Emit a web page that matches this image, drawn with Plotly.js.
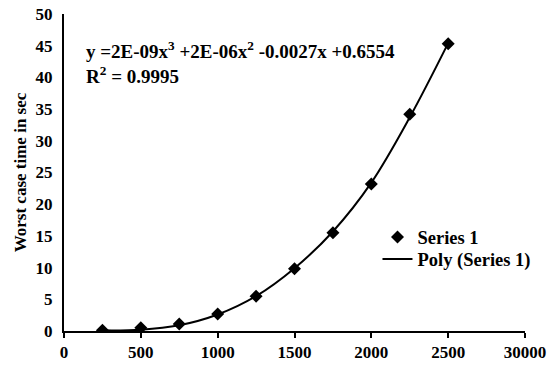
<!DOCTYPE html>
<html>
<head>
<meta charset="utf-8">
<script src="https://cdn.plot.ly/plotly-3.0.1.min.js"></script>
<style>html,body{margin:0;padding:0;background:#fff}#chart{width:555px;height:365px}</style>
</head>
<body>
<div id="chart"></div>
<script>
// Data
const sizes = [250, 500, 750, 1000, 1250, 1500, 1750, 2000, 2250, 2500];
const worstTime = [0.1, 0.5, 1.1, 2.7, 5.5, 9.8, 15.5, 23.2, 34.2, 45.3];
// Polynomial trend line
const trendX = [250, 500, 750, 1000, 1250, 1500, 1750, 2000, 2250, 2500];
const trendY = [0.1, 0.2, 0.9, 2.6, 5.5, 9.9, 15.7, 23.4, 33.7, 45.4];
const xTickVals = [0, 500, 1000, 1500, 2000, 2500, 3000];
const xTickText = ['0', '500', '1000', '1500', '2000', '2500', '30000'];
const yTickVals = [0, 5, 10, 15, 20, 25, 30, 35, 40, 45, 50];

const font = {family: '"Liberation Serif", "Times New Roman", serif', color: '#000'};
const bold = s => '<b>' + s + '</b>';

const traces = [
  {x: sizes, y: worstTime, name: bold('Series 1'), mode: 'markers', type: 'scatter',
   marker: {symbol: 'diamond', size: 10, color: '#000'}, legend: 'legend'},
  {x: trendX, y: trendY, name: bold('Poly (Series 1)'), mode: 'lines', type: 'scatter',
   line: {color: '#000', width: 2, shape: 'spline'}, legend: 'legend2'}
];

const legendFont = Object.assign({size: 18.5}, font);
const layout = {
  width: 555, height: 365,
  margin: {l: 64, r: 30, t: 14, b: 34},
  paper_bgcolor: '#fff', plot_bgcolor: '#fff',
  font: Object.assign({size: 16}, font),
  showlegend: true,
  legend: {x: 0.68, y: 0.355, xanchor: 'left', yanchor: 'top', bgcolor: 'rgba(0,0,0,0)', font: legendFont},
  legend2: {x: 0.68, y: 0.2856, xanchor: 'left', yanchor: 'top', bgcolor: 'rgba(0,0,0,0)', font: legendFont},
  xaxis: {range: [0, 3000], tickvals: xTickVals, ticktext: xTickText.map(bold),
          showgrid: false, zeroline: false, showline: true, linecolor: '#000', linewidth: 2,
          ticks: 'outside', ticklen: 5, tickwidth: 2, tickcolor: '#000',
          tickfont: Object.assign({size: 17}, font), fixedrange: true},
  yaxis: {range: [0, 50], tickvals: yTickVals, ticktext: yTickVals.map(v => bold(String(v))),
          showgrid: false, zeroline: false, showline: true, linecolor: '#000', linewidth: 2,
          ticks: '', ticklabelstandoff: 6,
          tickfont: Object.assign({size: 17}, font),
          title: {text: bold('Worst case time in sec'), font: Object.assign({size: 17}, font), standoff: 5},
          fixedrange: true},
  annotations: [
    {xref: 'paper', yref: 'paper', x: 0.043, y: 0.886, xanchor: 'left', yanchor: 'middle', showarrow: false,
     text: bold('y =2E-09x<sup>3</sup> +2E-06x<sup>2</sup> -0.0027x +0.6554'), font: Object.assign({size: 19}, font)},
    {xref: 'paper', yref: 'paper', x: 0.043, y: 0.808, xanchor: 'left', yanchor: 'middle', showarrow: false,
     text: bold('R<sup>2</sup> = 0.9995'), font: Object.assign({size: 19}, font)}
  ]
};

Plotly.newPlot('chart', traces, layout, {displayModeBar: false, staticPlot: true});
</script>
</body>
</html>
